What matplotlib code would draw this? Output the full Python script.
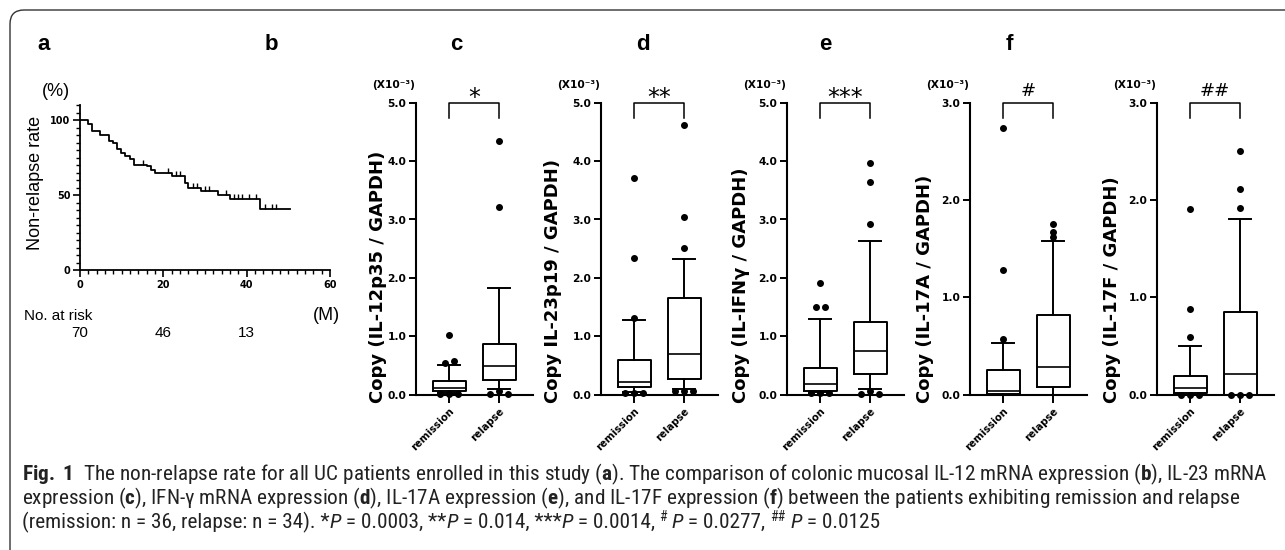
import matplotlib
matplotlib.use("Agg")
import matplotlib.pyplot as plt
from matplotlib import font_manager
from matplotlib.patches import FancyBboxPatch
from matplotlib.transforms import IdentityTransform, blended_transform_factory

W, H = 1285, 550

# ---- panel a: Kaplan-Meier (months, % non-relapse)
km_times = [0, 1.8, 2.8, 4.9, 6.9, 7.9, 8.9, 9.9, 10.9, 11.9, 13.0, 16.0, 17.0,
            18.0, 22.0, 25.1, 25.9, 29.0, 33.2, 36.0, 43.3]
km_surv = [100, 97.6, 92.9, 90.0, 86.2, 84.4, 80.4, 77.8, 76.2, 74.0, 70.2, 69.1,
           66.7, 64.4, 62.9, 58.2, 54.9, 52.7, 50.0, 47.1, 40.7]
km_end = 50.4
km_censor = [15, 21, 23, 24, 27, 28, 30, 31, 35, 37, 38, 39, 40.5, 42.3, 44.5, 46, 47]
risk_times = [0, 20, 40]
at_risk = [70, 46, 13]

# ---- panels b-f: box plots (x10^-3)
groups = ["remission", "relapse"]
letters = ["b", "c", "d", "e", "f"]
ylabels = ["Copy (IL-12p35 / GAPDH)", "Copy IL-23p19 / GAPDH)", "Copy (IL-IFNγ / GAPDH)",
           "Copy (IL-17A / GAPDH)", "Copy (IL-17F / GAPDH)"]
ymax = [5, 5, 5, 3, 3]
signif = ["*", "**", "***", "#", "##"]

rem_med = [0.12, 0.22, 0.19, 0.04, 0.07]
rem_q1 = [0.06, 0.13, 0.07, 0.01, 0.02]
rem_q3 = [0.23, 0.60, 0.45, 0.25, 0.19]
rem_lo = [0.03, 0.05, 0.04, 0.0, 0.0]
rem_hi = [0.51, 1.28, 1.30, 0.53, 0.50]
rem_out = [[1.03, 0.54, 0.58, 0.02, 0.02, 0.02],
           [3.71, 2.34, 1.32, 0.03, 0.03, 0.03],
           [1.91, 1.51, 1.51, 0.03, 0.03, 0.03],
           [2.74, 1.28, 0.57],
           [1.91, 0.88, 0.59, 0.0, 0.0, 0.0]]

rel_med = [0.50, 0.69, 0.74, 0.28, 0.21]
rel_q1 = [0.25, 0.27, 0.35, 0.08, 0.0]
rel_q3 = [0.86, 1.66, 1.25, 0.82, 0.85]
rel_lo = [0.09, 0.10, 0.09, 0.0, 0.0]
rel_hi = [1.82, 2.32, 2.63, 1.58, 1.81]
rel_out = [[4.34, 3.21, 0.02, 0.07, 0.02],
           [4.61, 3.04, 2.51, 0.07, 0.07, 0.07],
           [3.97, 3.65, 2.92, 0.01, 0.07, 0.01],
           [1.75, 1.67, 1.62],
           [2.50, 2.11, 1.92, 0.0, 0.0, 0.0]]

# caption pieces for the p-value line: (text, style)
p_runs = [("(remission: n = 36, relapse: n = 34). *", "n"), ("P", "i"), (" = 0.0003, **", "n"),
          ("P", "i"), (" = 0.014, ***", "n"), ("P", "i"), (" = 0.0014, ", "n"), ("#", "s"),
          (" ", "n"), ("P", "i"), (" = 0.0277, ", "n"), ("##", "s"), (" ", "n"), ("P", "i"),
          (" = 0.0125", "n")]

names = {f.name for f in font_manager.fontManager.ttflist}
cap_font = next((n for n in ["Liberation Sans Narrow", "Roboto Condensed", "Open Sans"] if n in names),
                "DejaVu Sans")

plt.rcParams["font.family"] = ["Liberation Sans", "DejaVu Sans"]
plt.rcParams["mathtext.fontset"] = "custom"
plt.rcParams["mathtext.rm"] = cap_font
plt.rcParams["mathtext.it"] = cap_font + ":italic"
plt.rcParams["mathtext.bf"] = cap_font + ":bold"

fig = plt.figure(figsize=(W / 100, H / 100), dpi=100)


def box_px(left, top, width, height):
    return [left / W, 1 - (top + height) / H, width / W, height / H]


def fig_xy(x, y):
    return x / W, 1 - y / H


# frame around the figure
fig.patches.append(FancyBboxPatch((10, -30), 1320, 570, boxstyle="round,pad=0,rounding_size=14",
                                  transform=IdentityTransform(), fill=False, ec="#333333", lw=1.0))

tick_font = dict(family="DejaVu Sans", weight="bold")

# ---------- panel a
ax = fig.add_axes(box_px(80, 105, 250, 165))
ax.step(km_times + [km_end], km_surv + [km_surv[-1]], where="post", color="k", lw=1.3)
cens_y = []
for t in km_censor:
    lvl = km_surv[0]
    for tt, s in zip(km_times, km_surv):
        if tt <= t:
            lvl = s
    cens_y.append(lvl)
ax.plot(km_censor, cens_y, ls="none", marker=2, ms=3.5, mew=1.0, color="k")
ax.set_xlim(0, 60)
ax.set_ylim(0, 110)
ax.set_xticks([0, 20, 40, 60])
ax.set_xticks(range(0, 61, 2), minor=True)
ax.set_yticks([0, 50, 100])
ax.set_yticks(range(0, 111, 5), minor=True)
for s in ["top", "right"]:
    ax.spines[s].set_visible(False)
for s in ["left", "bottom"]:
    ax.spines[s].set_linewidth(1.3)
ax.tick_params(which="major", length=5, width=1.2, pad=2)
ax.tick_params(which="minor", length=3, width=1.0)
for lab in ax.get_xticklabels() + ax.get_yticklabels():
    lab.set_fontproperties(font_manager.FontProperties(size=7, **tick_font))
fig.text(*fig_xy(36, 183), "Non-relapse rate", rotation=90, ha="center", va="center", fontsize=13)
fig.text(*fig_xy(56, 91), "(%)", ha="center", va="center", fontsize=13)
fig.text(*fig_xy(24, 316), "No. at risk", ha="left", va="center", fontsize=11)
fig.text(*fig_xy(326, 316), "(M)", ha="center", va="center", fontsize=13)
tr = blended_transform_factory(ax.transData, fig.transFigure)
for t, n in zip(risk_times, at_risk):
    ax.text(t, 1 - 333 / H, str(n), transform=tr, ha="center", va="center", fontsize=11)
fig.text(*fig_xy(37, 50), "a", fontsize=16, weight="bold", ha="left", va="baseline")


# ---------- panels b-f
def swarm(vals, pos, scale, diam_px=4.0, step=0.18):
    clusters = []
    for v in vals:
        for c in clusters:
            if any(abs(v - u) * scale < diam_px for u in c):
                c.append(v)
                break
        else:
            clusters.append([v])
    xs, ys = [], []
    for c in clusters:
        n = len(c)
        for i, v in enumerate(c):
            xs.append(pos + (i - (n - 1) / 2) * step)
            ys.append(v)
    return xs, ys


lefts = [416, 601, 787, 970, 1157]
label_off = [-38, -48, -46, -45, -45]
top, height, width = 102.7, 292, 117

for i, left in enumerate(lefts):
    ax = fig.add_axes(box_px(left, top, width, height))
    stats = [dict(med=rem_med[i], q1=rem_q1[i], q3=rem_q3[i], whislo=rem_lo[i], whishi=rem_hi[i],
                  fliers=[], label=groups[0]),
             dict(med=rel_med[i], q1=rel_q1[i], q3=rel_q3[i], whislo=rel_lo[i], whishi=rel_hi[i],
                  fliers=[], label=groups[1])]
    lp = dict(color="k", lw=1.4)
    ax.bxp(stats, positions=[1, 2], widths=0.66, capwidths=0.44, showfliers=False,
           boxprops=lp, whiskerprops=lp, capprops=lp, medianprops=dict(color="k", lw=1.2))
    scale = height / ymax[i]
    for pos, outs in zip([1, 2], [rem_out[i], rel_out[i]]):
        xs, ys = swarm(outs, pos, scale)
        ax.plot(xs, ys, "o", ms=4, color="k", clip_on=False, zorder=5)
    ax.set_xlim(0.34, 2.68)
    ax.set_ylim(0, ymax[i])
    ax.set_yticks(range(0, ymax[i] + 1))
    ax.set_yticklabels([f"{v:.1f}" for v in range(0, ymax[i] + 1)])
    ax.set_xticks([1, 2])
    ax.set_xticklabels(groups, rotation=45, ha="right", rotation_mode="anchor")
    for s in ["top", "right"]:
        ax.spines[s].set_visible(False)
    for s in ["left", "bottom"]:
        ax.spines[s].set_linewidth(1.5)
    ax.tick_params(axis="y", length=5, width=1.4, pad=2)
    ax.tick_params(axis="x", length=6, width=1.4, pad=2)
    for lab in ax.get_yticklabels():
        lab.set_fontproperties(font_manager.FontProperties(size=7.7, **tick_font))
    for lab in ax.get_xticklabels():
        lab.set_fontproperties(font_manager.FontProperties(size=7.3, **tick_font))
    # significance bracket
    leg = 15 / scale
    ax.plot([1, 1, 2, 2], [ymax[i] - leg, ymax[i], ymax[i], ymax[i] - leg], color="k", lw=1.1,
            clip_on=False)
    if signif[i].startswith("*"):
        ax.annotate(signif[i], (1.5, ymax[i]), xytext=(0, -1.5), textcoords="offset points",
                    ha="center", va="baseline", fontsize=17, family="DejaVu Sans")
    else:
        ax.annotate(signif[i], (1.5, ymax[i]), xytext=(0, 5), textcoords="offset points",
                    ha="center", va="baseline", fontsize=13, family="DejaVu Sans")
    # labels
    ax.text(label_off[i] / width, -8 / height, ylabels[i], transform=ax.transAxes, rotation=90,
            ha="center", va="bottom", fontsize=13, **tick_font)
    fig.text(*fig_xy(left - 22, 85), "(X10⁻³)", ha="center", va="center", fontsize=7.7, **tick_font)
    fig.text(*fig_xy(left - 151, 50), letters[i], fontsize=16, weight="bold", ha="left", va="baseline")

# ---------- caption
cap_lines = [
    r"$\mathbf{Fig.\ 1}$  The non-relapse rate for all UC patients enrolled in this study ($\mathbf{a}$). "
    r"The comparison of colonic mucosal IL-12 mRNA expression ($\mathbf{b}$), IL-23 mRNA",
    r"expression ($\mathbf{c}$), IFN-γ mRNA expression ($\mathbf{d}$), IL-17A expression ($\mathbf{e}$), "
    r"and IL-17F expression ($\mathbf{f}$) between the patients exhibiting remission and relapse",
]
cap_y = [480, 504, 528]
cap_fam = [cap_font, "DejaVu Sans"]
renderer = fig.canvas.get_renderer()
texts = []
for line, y in zip(cap_lines, cap_y):
    texts.append(fig.text(*fig_xy(22, y), line, ha="left", va="baseline", fontsize=12,
                          family=cap_fam, color="#222222"))
w = texts[0].get_window_extent(renderer).width
cap_fs = 12 * 1246 / w
for t in texts:
    t.set_fontsize(cap_fs)

# third caption line drawn run by run (italic P, raised # marks)
x = 22
for txt, style in p_runs:
    kw = dict(family=cap_fam, color="#222222", ha="left", va="baseline")
    y = cap_y[2]
    fs = cap_fs
    if style == "i":
        kw["style"] = "italic"
    elif style == "s":
        fs = cap_fs * 0.65
        y -= cap_fs * 0.45
    t = fig.text(*fig_xy(x, y), txt, fontsize=fs, **kw)
    x += t.get_window_extent(renderer).width

fig.savefig("out.png", dpi=100)
